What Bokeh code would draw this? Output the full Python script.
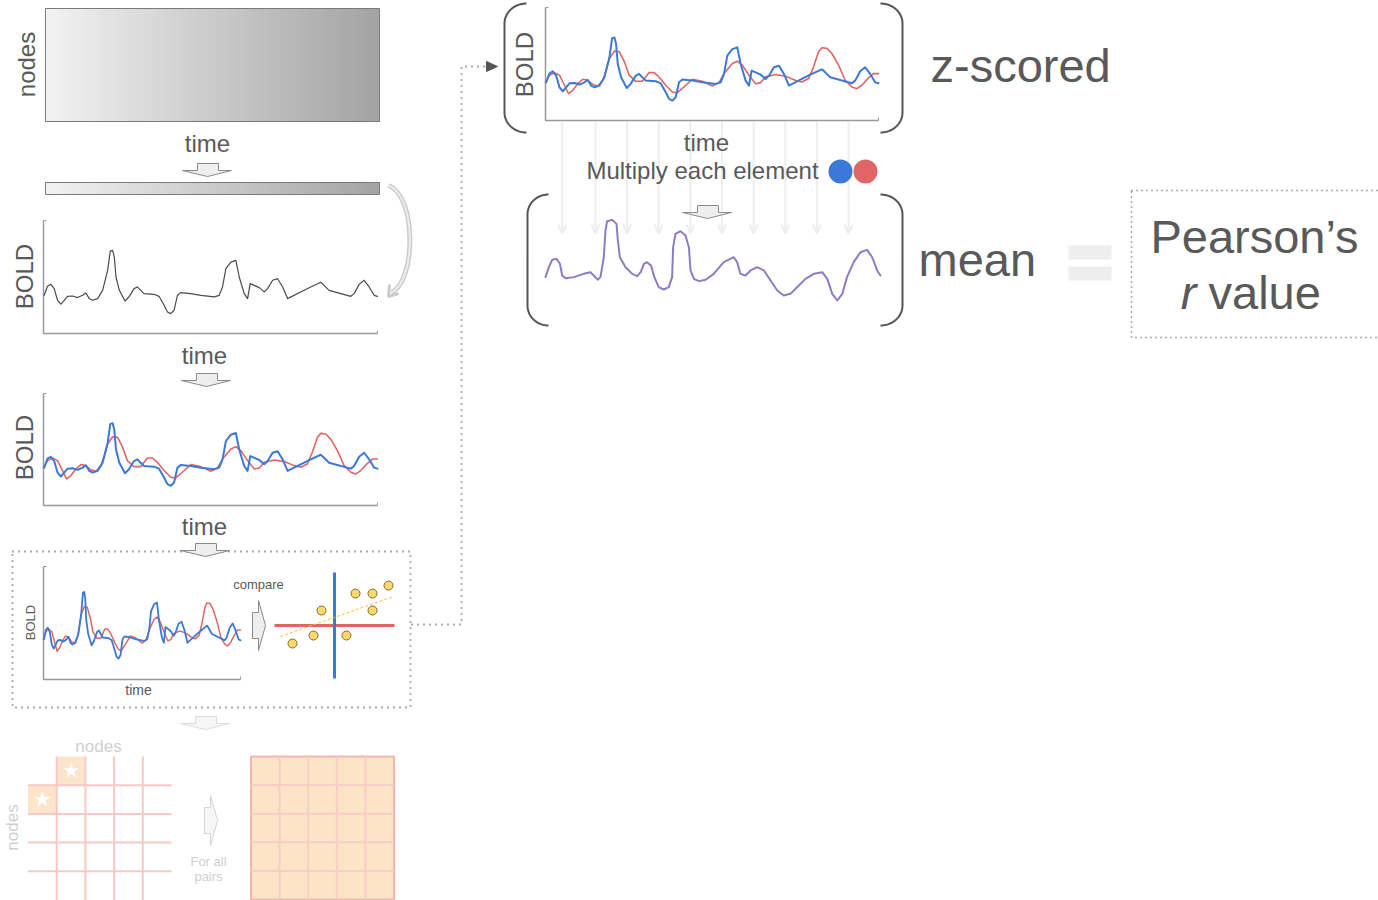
import numpy as np
from bokeh.plotting import figure
from bokeh.models import Range1d
from bokeh.core.properties import value
from bokeh.embed import file_html
from bokeh.resources import INLINE

# ---------------- data ----------------
# BOLD signal of node A (time 0..100, amplitude relative to axis height)
time_a = [0.2, 1.2, 2.2, 3.2, 4.2, 5.2, 6.2, 7.2, 8.7, 10.2, 11.7, 12.7, 13.7, 14.7, 16.2, 17.7, 19.2, 20.0,
          20.7, 21.2, 21.7, 22.7, 24.4, 25.6, 27.1, 28.1, 29.1, 30.1, 33.1, 34.6, 36.1, 37.1, 38.1, 39.1,
          40.1, 41.1, 44.1, 47.1, 51.1, 52.6, 53.6, 54.6, 56.1, 57.6, 58.6, 60.1, 61.1, 61.9, 63.1, 64.6,
          66.1, 67.1, 68.6, 70.1, 71.6, 73.1, 74.1, 77.0, 80.0, 83.0, 84.0, 85.5, 92.0, 93.0, 94.5, 96.0,
          97.5, 99.0, 100.0]
bold_a = [0.338, 0.418, 0.435, 0.397, 0.294, 0.259, 0.294, 0.329, 0.332, 0.318, 0.338, 0.359, 0.309, 0.294,
          0.309, 0.382, 0.559, 0.729, 0.735, 0.676, 0.500, 0.382, 0.288, 0.324, 0.397, 0.412, 0.382, 0.353,
          0.347, 0.329, 0.250, 0.191, 0.176, 0.206, 0.338, 0.362, 0.353, 0.338, 0.324, 0.338, 0.412, 0.574,
          0.632, 0.647, 0.500, 0.353, 0.309, 0.441, 0.426, 0.406, 0.368, 0.397, 0.471, 0.485, 0.412, 0.309,
          0.324, 0.368, 0.412, 0.453, 0.426, 0.382, 0.329, 0.353, 0.435, 0.471, 0.412, 0.338, 0.329]

# BOLD signal of node B
time_b = [0.0, 1.2, 2.7, 4.2, 5.7, 6.9, 8.2, 9.7, 11.2, 12.7, 14.2, 15.7, 17.2, 18.2, 19.2, 20.7, 22.2, 23.7,
          25.1, 27.1, 29.1, 31.1, 32.6, 34.1, 36.1, 38.1, 39.6, 41.6, 44.1, 47.1, 50.1, 52.1, 53.6, 56.1,
          57.6, 59.1, 61.1, 63.1, 64.6, 66.1, 69.1, 72.1, 75.0, 77.0, 79.0, 80.5, 82.0, 83.0, 84.5, 86.0,
          88.0, 90.0, 92.0, 93.5, 95.0, 97.0, 98.5, 100.0]
bold_b = [0.335, 0.401, 0.424, 0.401, 0.312, 0.237, 0.267, 0.326, 0.365, 0.356, 0.318, 0.306, 0.356, 0.445,
          0.549, 0.614, 0.608, 0.519, 0.401, 0.347, 0.347, 0.424, 0.424, 0.386, 0.312, 0.252, 0.246, 0.297,
          0.365, 0.347, 0.306, 0.335, 0.415, 0.504, 0.525, 0.490, 0.401, 0.326, 0.335, 0.386, 0.407, 0.392,
          0.356, 0.341, 0.371, 0.475, 0.608, 0.644, 0.638, 0.593, 0.490, 0.356, 0.297, 0.282, 0.312, 0.377,
          0.415, 0.415]

# element-wise product of the z-scored signals
time_prod = [0, 1.0, 2.0, 3.3, 4.3, 5.0, 6.0, 8.5, 11.4, 13.4, 14.4, 15.6, 16.4, 17.4, 17.9, 18.4, 19.9,
             21.2, 21.6, 22.2, 23.9, 25.9, 27.4, 28.4, 29.4, 30.3, 31.5, 32.5, 33.8, 35.3, 36.8, 37.8, 38.1,
             38.8, 40.3, 41.8, 42.8, 43.3, 44.3, 45.8, 47.8, 50.2, 53.2, 56.2, 57.2, 58.2, 59.7, 61.2, 63.2,
             65.2, 67.2, 69.2, 71.1, 73.1, 75.1, 77.6, 80.1, 82.6, 84.1, 85.6, 87.1, 88.6, 90.0, 92.0, 94.0,
             96.0, 97.5, 99.0, 100]
prod = [0.308, 0.423, 0.508, 0.519, 0.462, 0.327, 0.296, 0.308, 0.346, 0.365, 0.327, 0.277, 0.308, 0.538,
        0.846, 0.954, 0.969, 0.923, 0.731, 0.538, 0.423, 0.346, 0.319, 0.365, 0.462, 0.481, 0.442, 0.308,
        0.192, 0.165, 0.192, 0.308, 0.654, 0.808, 0.838, 0.788, 0.654, 0.385, 0.288, 0.262, 0.277, 0.346,
        0.481, 0.538, 0.481, 0.346, 0.327, 0.385, 0.423, 0.385, 0.269, 0.154, 0.096, 0.115, 0.192, 0.288,
        0.346, 0.365, 0.288, 0.115, 0.038, 0.115, 0.308, 0.481, 0.596, 0.623, 0.538, 0.385, 0.327]

# scatter of node A vs node B (centered)
scatter_x = [-4.2, -2.1, -1.3, 1.2, 2.1, 3.8, 3.8, 5.4]
scatter_y = [-1.8, -1.0, 1.5, -1.0, 3.2, 3.2, 1.5, 4.0]
fit_x = [-5.4, 5.9]
fit_y = [-1.1, 2.9]

matrix_n = 5
highlight_cells = [(1, 0), (0, 1)]  # (column, row)
multiply_ticks = [5, 15, 24.5, 34, 43.5, 53, 62.5, 72, 81.5, 91]

# ---------------- styles ----------------
FONT = value("Liberation Sans")
TXT = "#595959"
LIGHT_TXT = "#cfcfcf"
BLUE = "#3c78d8"
RED = "#e06666"
PURPLE = "#8e7cc3"
AXIS = "#999999"
KB = 0.38  # baseline correction factor

W, H = 1378, 900
p = figure(width=W, height=H, x_range=Range1d(0, W), y_range=Range1d(H, 0),
           output_backend="svg", toolbar_location=None, min_border=0,
           x_axis_location=None, y_axis_location=None, outline_line_color=None)
p.xgrid.visible = False
p.ygrid.visible = False
p.background_fill_color = "white"


def txt(x, y, s, size, color=TXT, align="center", angle=0.0, style="normal"):
    if angle:
        x = x - KB * size
    else:
        y = y - KB * size
    p.text(x=[x], y=[y], text=[s], text_font=FONT, text_font_size=f"{size}px", text_color=color,
           text_align=align, text_baseline="alphabetic", angle=angle, text_font_style=style)


def to_px(t, v, x0, x1, ytop, ybot):
    t = np.asarray(t, float)
    v = np.asarray(v, float)
    return x0 + t / 100.0 * (x1 - x0), ybot - v * (ybot - ytop)


def sig(xs, ys, color, w):
    p.line(xs, ys, line_color=color, line_width=w, line_join="round", line_cap="round")


def axes(x0, x1, ytop, ybot, color=AXIS, w=1.5):
    p.line([x0, x0, x1], [ytop, ybot, ybot], line_color=color, line_width=w)
    p.line([x0, x0 + 3], [ytop, ytop], line_color=color, line_width=1)
    p.line([x1, x1], [ybot, ybot - 3], line_color=color, line_width=1)


def down_arrow(cx, ty, fill="#eeeeee", line="#8a8a8a"):
    xs = [cx - 10, cx + 11, cx + 11, cx + 24, cx, cx - 25, cx - 10]
    ys = [ty, ty, ty + 7, ty + 7, ty + 13, ty + 7, ty + 7]
    p.patch(xs, ys, fill_color=fill, line_color=line, line_width=1)


def right_arrow(lx, cy, fill="#eeeeee", line="#8a8a8a"):
    xs = [lx, lx + 6, lx + 6, lx + 13, lx + 6, lx + 6, lx]
    ys = [cy - 13, cy - 13, cy - 25, cy, cy + 25, cy + 13, cy + 13]
    p.patch(xs, ys, fill_color=fill, line_color=line, line_width=1)


def gradient_rect(x0, x1, y0, y1, c0=(242, 242, 242), c1=(163, 163, 163), n=256):
    f = np.linspace(0, 1, n)
    img = np.zeros((1, n), dtype=np.uint32)
    view = img.view(dtype=np.uint8).reshape((1, n, 4))
    for i in range(3):
        view[0, :, i] = np.round(c0[i] + (c1[i] - c0[i]) * f).astype(np.uint8)
    view[0, :, 3] = 255
    p.image_rgba(image=[img], x=x0, y=y0, dw=x1 - x0, dh=y1 - y0)
    p.quad(left=[x0], right=[x1], top=[y0], bottom=[y1], fill_color=None, line_color="#7a7a7a",
           line_width=1)


def bracket(xe, xc, ytop, ybot, r=20, color="#555555"):
    th = np.linspace(0, np.pi / 2, 24)
    xt = xe + (xc - xe) * np.sin(th)
    yt = ytop + r * (1 - np.cos(th))
    xb = xe + (xc - xe) * np.sin(th[::-1])
    yb = ybot - r * (1 - np.cos(th[::-1]))
    p.line(np.concatenate([xt, xb]), np.concatenate([yt, yb]), line_color=color, line_width=2)


# ---------------- left column ----------------
gradient_rect(45, 379, 8, 121)
txt(35, 64, "nodes", 24, angle=np.pi / 2)
txt(207, 152, "time", 24)
down_arrow(207, 163)
gradient_rect(45, 379, 182, 194)

# curved feedback arrow
p.bezier(x0=[388], y0=[185], x1=[391], y1=[292], cx0=[416], cy0=[195], cx1=[416], cy1=[280],
         line_color="#cccccc", line_width=5)
p.bezier(x0=[388], y0=[185], x1=[391], y1=[292], cx0=[416], cy0=[195], cx1=[416], cy1=[280],
         line_color="#ececec", line_width=2)
p.line([389, 388, 398], [284, 296, 293], line_color="#cccccc", line_width=3)

# panel 2 - single node signal
axes(43, 377, 220, 333)
xa, ya = to_px(time_a, bold_a, 43, 377, 220, 333)
sig(xa, ya, "#4a4a4a", 1.2)
txt(33, 276, "BOLD", 24, angle=np.pi / 2)
txt(204, 364, "time", 24)
down_arrow(206, 373)

# panel 3 - two node signals
axes(43, 377, 393, 505)
xb, yb = to_px(time_b, bold_b, 43, 377, 393, 505)
xa, ya = to_px(time_a, bold_a, 43, 377, 393, 505)
sig(xb, yb, RED, 1.6)
sig(xa, ya, BLUE, 2)
txt(33, 447, "BOLD", 24, angle=np.pi / 2)
txt(204, 535, "time", 24)

# dotted box with compare
p.quad(left=[12], right=[410], top=[551], bottom=[707], fill_color=None, line_color="#555555",
       line_width=1.8, line_dash="1 5")
down_arrow(205, 543)
axes(43, 240, 566, 679)
xb, yb = to_px(time_b, bold_b, 43, 240, 560, 679)
xa, ya = to_px(time_a, bold_a, 43, 240, 560, 679)
sig(xb, yb, RED, 1.5)
sig(xa, ya, BLUE, 1.8)
txt(35, 622, "BOLD", 13, angle=np.pi / 2)
txt(138, 695, "time", 14)
txt(258, 589, "compare", 13)
right_arrow(252, 625)

# scatter
cx_s, cy_s, sc = 334, 625, 10.0
p.line([274, 394], [cy_s, cy_s], line_color=RED, line_width=3)
p.line([cx_s, cx_s], [572, 678], line_color=BLUE, line_width=3)
p.line(cx_s + np.array(fit_x) * sc, cy_s - np.array(fit_y) * sc, line_color="#f1c232",
       line_width=1, line_dash="3 2")
p.scatter(cx_s + np.array(scatter_x) * sc, cy_s - np.array(scatter_y) * sc, size=9,
          fill_color="#ffd966", line_color="#7a6a3a", line_width=1)

# dotted connector
p.line([411, 461, 461, 487], [624, 624, 66, 66], line_color="#555555", line_width=1.8,
       line_dash="1 5")
p.patch([486, 497, 486], [61, 66, 71], fill_color="#555555", line_color="#555555")

# ---------------- bottom (faded) ----------------
down_arrow(205, 716, fill="#f6f6f6", line="#dddddd")
txt(98, 752, "nodes", 17, color=LIGHT_TXT)
txt(18, 827, "nodes", 17, color=LIGHT_TXT, angle=np.pi / 2)
g0x, g0y, cell = 27.5, 756, 28.7
for (c, r) in highlight_cells:
    p.quad(left=[g0x + c * cell], right=[g0x + (c + 1) * cell], top=[g0y + r * cell],
           bottom=[g0y + (r + 1) * cell], fill_color="#fde5cc", line_color=None)
    p.scatter([g0x + (c + 0.5) * cell], [g0y + (r + 0.5) * cell], marker="star", size=17,
              fill_color="white", line_color=None)
for k in range(1, matrix_n):
    p.line([g0x + k * cell] * 2, [g0y, g0y + matrix_n * cell], line_color="#f6c9c6", line_width=2)
    p.line([g0x, g0x + matrix_n * cell], [g0y + k * cell] * 2, line_color="#f6c9c6", line_width=2)
right_arrow(204, 820, fill="#f6f6f6", line="#d5d5d5")
txt(208, 866, "For all", 13, color=LIGHT_TXT)
txt(208, 881, "pairs", 13, color=LIGHT_TXT)

m0x, m0y, mc = 250.5, 756, 28.6
p.quad(left=[m0x], right=[m0x + matrix_n * mc], top=[m0y], bottom=[m0y + matrix_n * mc],
       fill_color="#fde4c6", line_color="#f4b5ab", line_width=2)
for k in range(1, matrix_n):
    p.line([m0x + k * mc] * 2, [m0y, m0y + matrix_n * mc], line_color="#f7cdc6", line_width=2)
    p.line([m0x, m0x + matrix_n * mc], [m0y + k * mc] * 2, line_color="#f7cdc6", line_width=2)

# ---------------- right part ----------------
for t in multiply_ticks:
    xx = 545 + t / 100.0 * (878 - 545)
    p.line([xx, xx], [121, 232], line_color="#eeeeee", line_width=2)
    p.line([xx - 4, xx, xx + 4], [224, 233, 224], line_color="#eeeeee", line_width=2)

bracket(526, 504, 3, 132)
bracket(880, 902, 3, 132)
axes(545, 878, 7, 120)
xb, yb = to_px(time_b, bold_b, 545, 878, 7, 120)
xa, ya = to_px(time_a, bold_a, 545, 878, 7, 120)
sig(xb, yb, RED, 1.6)
sig(xa, ya, BLUE, 2)
txt(533, 64, "BOLD", 24, angle=np.pi / 2)
txt(706, 151, "time", 24)
txt(702, 179, "Multiply each element", 24)
p.scatter([840, 865], [171, 171], size=24, fill_color=[BLUE, RED], line_color=None)

bracket(548, 527, 194, 325)
bracket(880, 902, 194, 325)
down_arrow(707, 205)
xp, yp = to_px(time_prod, prod, 545, 880, 216.7, 303.3)
sig(xp, yp, PURPLE, 2)

txt(930, 83, "z-scored", 47, align="left")
txt(918, 277, "mean", 47, align="left")
p.quad(left=[1068, 1068], right=[1111, 1111], top=[245, 266], bottom=[259, 280],
       fill_color="#eeeeee", line_color=None)
p.quad(left=[1131], right=[1380], top=[190], bottom=[337], fill_color=None, line_color="#555555",
       line_width=1.5, line_dash="1 4")
txt(1254, 254, "Pearson\u2019s", 47)
txt(1196, 310, "r", 47, align="right", style="italic")
txt(1208, 310, "value", 47, align="left")

open("out.html", "w").write(file_html(p, INLINE))
